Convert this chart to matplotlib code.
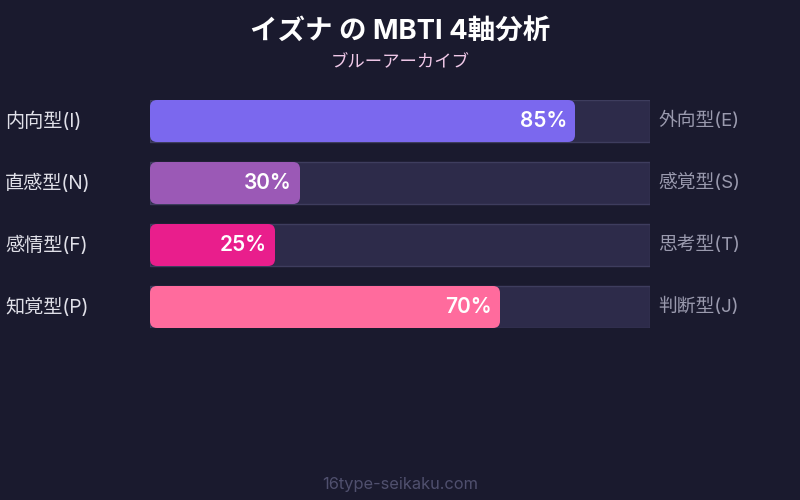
import matplotlib
matplotlib.use("Agg")
import matplotlib.pyplot as plt
from matplotlib.patches import FancyBboxPatch, Rectangle

plt.rcParams['font.family'] = ['Inter', 'Noto Sans CJK JP', 'DejaVu Sans']

# data
left_labels = ["内向型(I)", "直感型(N)", "感情型(F)", "知覚型(P)"]
right_labels = ["外向型(E)", "感覚型(S)", "思考型(T)", "判断型(J)"]
values = [85, 30, 25, 70]
bar_colors = ["#7b68ee", "#9b59b6", "#e91e8c", "#ff6b9d"]

title = "イズナ の MBTI 4軸分析"
subtitle = "ブルーアーカイブ"
footer = "16type-seikaku.com"

BG = "#1a1a2e"
TRACK = "#2d2b4a"
TRACK_EDGE = "#3e3d5e"

W, H = 800, 500
fig = plt.figure(figsize=(8, 5), dpi=100)
fig.patch.set_facecolor(BG)

# bar area: x 150..650 px, y 100..328 px
row_px = 62
bar_px = 42
ax = fig.add_axes([150 / W, 1 - 328 / H, 500 / W, 228 / H])
ax.set_facecolor(BG)
half = bar_px / row_px / 2
ax.set_xlim(0, 100)
ax.set_ylim(len(values) - 1 + half, -half)
ax.axis("off")

x_per_px = 100 / 500
y_per_px = 1 / row_px
radius_px = 7

for i, (v, c) in enumerate(zip(values, bar_colors)):
    ax.add_patch(Rectangle((0, i - half), 100, 2 * half, facecolor=TRACK,
                           edgecolor=TRACK_EDGE, linewidth=1, zorder=1))
    ax.add_patch(FancyBboxPatch((0, i - half), v, 2 * half,
                                boxstyle=f"round,pad=0,rounding_size={radius_px * x_per_px}",
                                mutation_aspect=y_per_px / x_per_px,
                                facecolor=c, edgecolor="none", zorder=2))
    ax.text(v - 8 * x_per_px, i, f"{v}%", ha="right", va="center",
            color="white", fontsize=15, fontweight="semibold", zorder=3)
    ax.text(-145 * x_per_px, i, left_labels[i], ha="left", va="center",
            color="#e0e0e8", fontsize=13.8)
    ax.text(100 + 8 * x_per_px, i, right_labels[i], ha="left", va="center",
            color="#9a9aae", fontsize=13.5)

fig.text(0.5, 1 - 33 / H, title, ha="center", va="center", color="white",
         fontsize=19.8, fontweight="bold")
fig.text(0.5, 1 - 63 / H, subtitle, ha="center", va="center", color="#f0c8e8",
         fontsize=12.5)
fig.text(0.5, 1 - 484 / H, footer, ha="center", va="center", color="#50506e",
         fontsize=11.8)

fig.savefig("out.png", dpi=100, facecolor=BG)
